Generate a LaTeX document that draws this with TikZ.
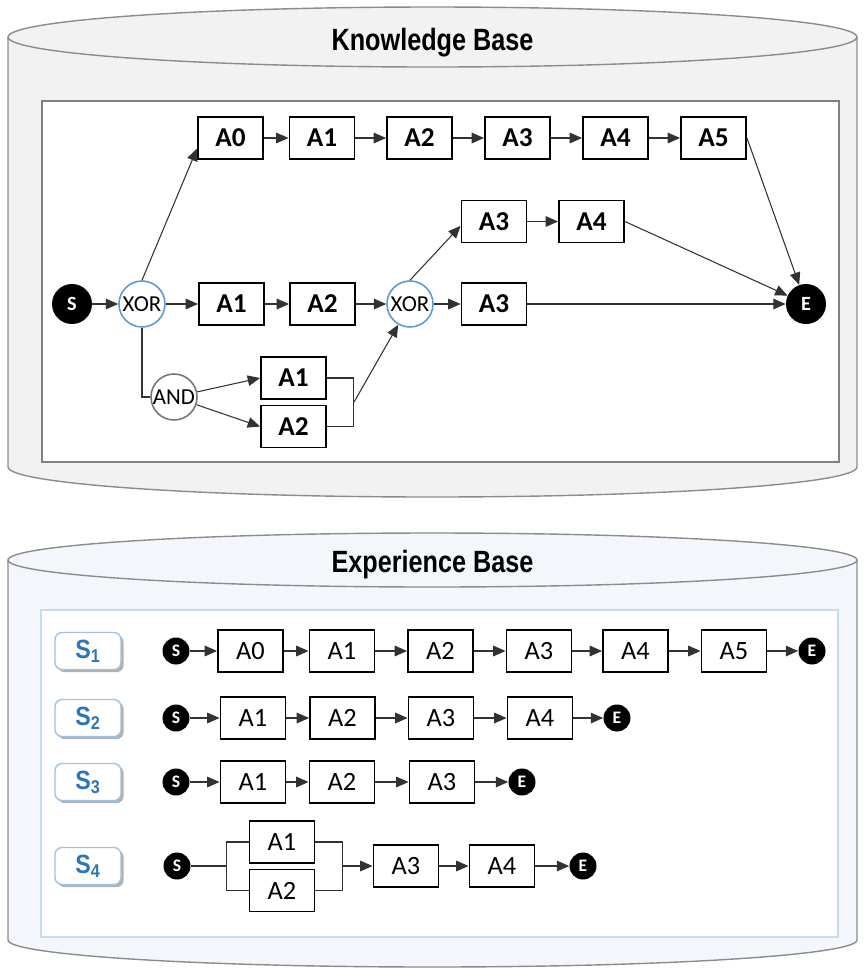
\documentclass[tikz,border=0pt]{standalone}
\usepackage{fontspec}
\setmainfont{Carlito}
\newfontfamily\titlefont[FakeStretch=0.82]{Liberation Sans}
\newfontfamily\seqfont[FakeStretch=0.88]{Liberation Sans}
\usetikzlibrary{arrows.meta, calc, shadows}
\definecolor{kbfill}{RGB}{242,242,242}
\definecolor{ebfill}{RGB}{243,247,251}
\definecolor{cylline}{RGB}{140,140,140}
\definecolor{kbframe}{RGB}{128,128,128}
\definecolor{ebframe}{RGB}{197,220,240}
\definecolor{xorblue}{RGB}{91,155,213}
\definecolor{andgray}{RGB}{118,118,118}
\definecolor{seqblue}{RGB}{46,117,182}
\definecolor{seqframe}{RGB}{157,195,230}
\definecolor{linkgray}{RGB}{50,50,50}

\tikzset{
  act/.style={draw, line width=1.1pt, fill=white, inner sep=0pt, minimum width=1.3cm, minimum height=0.84cm, font=\fontsize{15.5}{15.5}\selectfont\bfseries},
  seqact/.style={act, font=\fontsize{15}{15}\selectfont},
  gate/.style={circle, draw=xorblue, line width=0.9pt, fill=white, inner sep=0pt, minimum size=0.92cm, font=\fontsize{13}{13}\selectfont},
  andgate/.style={gate, draw=andgray},
  terminal/.style={circle, fill=black, text=white, inner sep=0pt, minimum size=0.8cm, font=\fontsize{11.5}{11.5}\selectfont\bfseries},
  smallterm/.style={terminal, minimum size=0.54cm, font=\fontsize{10}{10}\selectfont\bfseries},
  seqlbl/.style={draw=seqframe, line width=0.8pt, fill=white, rounded corners=4pt, minimum width=1.32cm, minimum height=0.74cm, inner sep=0pt, text=seqblue, font=\seqfont\fontsize{15}{15}\selectfont\bfseries, drop shadow={shadow xshift=1.5pt, shadow yshift=-1.5pt, fill=black, opacity=0.3}},
  flow/.style={-{Triangle[length=7pt,width=6pt]}, line width=0.6pt, linkgray},
  plain/.style={line width=0.6pt, linkgray},
  title/.style={font=\titlefont\fontsize{17.5}{17.5}\selectfont\bfseries},
}

\begin{document}
\begin{tikzpicture}[x=0.02cm, y=-0.02cm]
	\useasboundingbox (0,0) rectangle (865,968);

	% knowledge base cylinder
	\fill[kbfill] (8,37) -- (8,467) arc[start angle=180, end angle=0, x radius=424.5, y radius=30] -- (857,37) -- cycle;
	\draw[cylline, line width=0.8pt] (8,37) -- (8,467) arc[start angle=180, end angle=0, x radius=424.5, y radius=30] -- (857,37);
	\draw[cylline, line width=0.8pt, fill=kbfill] (432.5,37) ellipse [x radius=424.5, y radius=30];
	\node[title] (kbtitle) at (432.5,43) {Knowledge Base};
	\draw[kbframe, line width=1.2pt, fill=white] (42,101) rectangle (839,462);

	% experience base cylinder
	\fill[ebfill] (8,560) -- (8,940) arc[start angle=180, end angle=0, x radius=424.5, y radius=27] -- (857,560) -- cycle;
	\draw[cylline, line width=0.8pt] (8,560) -- (8,940) arc[start angle=180, end angle=0, x radius=424.5, y radius=27] -- (857,560);
	\draw[cylline, line width=0.8pt, fill=ebfill] (432.5,560) ellipse [x radius=424.5, y radius=27];
	\node[title] (ebtitle) at (432.5,565) {Experience Base};
	\draw[ebframe, line width=1.2pt, fill=white] (41,610) rectangle (838,937);

	% process model
	\node[terminal] (ks) at (72,304) {S};
	\node[gate] (kx1) at (142,304) {XOR};
	\node[act] (km1) at (231.5,304) {A1};
	\node[act] (km2) at (322.5,304) {A2};
	\node[gate] (kx2) at (410,304) {XOR};
	\node[act] (km3) at (494,304) {A3};
	\node[terminal] (ke) at (806,304) {E};
	\foreach \i/\x in {0/230.5,1/322,2/419.5,3/517.5,4/615.5,5/713.5}
		\node[act] (kt\i) at (\x,138) {A\i};
	\node[act] (ku3) at (494,221.5) {A3};
	\node[act] (ku4) at (591.5,221.5) {A4};
	\node[andgate] (kand) at (174,397) {AND};
	\node[act] (kl1) at (293.5,378) {A1};
	\node[act] (kl2) at (293.5,426.5) {A2};

	\draw[flow] (ks) -- (kx1);
	\draw[flow] (kx1) -- (km1);
	\draw[flow] (km1) -- (km2);
	\draw[flow] (km2) -- (kx2);
	\draw[flow] (kx2) -- (km3);
	\draw[flow] (km3) -- (ke);
	\draw[flow] (kx1.north) -- ($(kt0.north west)!0.74!(kt0.south west)$);
	\foreach \i/\j in {0/1,1/2,2/3,3/4,4/5}
		\draw[flow] (kt\i) -- (kt\j);
	\draw[flow] (kt5.east) -- (ke);
	\draw[flow] (kx2.north) -- ($(ku3.north west)!0.6!(ku3.south west)$);
	\draw[flow] (ku3) -- (ku4);
	\draw[flow] (ku4.east) -- (ke);
	\draw[plain] (kx1.south) |- (kand.west);
	\draw[flow] (kand) -- (kl1.west);
	\draw[flow] (kand) -- (kl2.west);
	\draw[plain] (kl1.east) -- ++(27,0) coordinate (kj1) |- (kl2.east);
	\draw[flow] ($(kj1)!0.5!(kj1 |- kl2.east)$) -- (kx2);

	% traces
	\foreach \n/\y in {1/651,2/718,3/782,4/866}
		\node[seqlbl] (lbl\n) at (88,\y) {S\textsubscript{\n}};

	\node[smallterm] (r1s) at (176,651) {S};
	\foreach \i/\x in {0/250.5,1/342,2/440.5,3/539,4/635.5,5/734}
		\node[seqact] (r1a\i) at (\x,651) {A\i};
	\node[smallterm] (r1e) at (812,651) {E};
	\draw[flow] (r1s) -- (r1a0);
	\foreach \i/\j in {0/1,1/2,2/3,3/4,4/5}
		\draw[flow] (r1a\i) -- (r1a\j);
	\draw[flow] (r1a5) -- (r1e);

	\node[smallterm] (r2s) at (176,718) {S};
	\foreach \i/\x in {1/253,2/342.5,3/441,4/540}
		\node[seqact] (r2a\i) at (\x,718) {A\i};
	\node[smallterm] (r2e) at (617,718) {E};
	\draw[flow] (r2s) -- (r2a1);
	\foreach \i/\j in {1/2,2/3,3/4}
		\draw[flow] (r2a\i) -- (r2a\j);
	\draw[flow] (r2a4) -- (r2e);

	\node[smallterm] (r3s) at (176,782) {S};
	\foreach \i/\x in {1/253,2/342,3/442}
		\node[seqact] (r3a\i) at (\x,782) {A\i};
	\node[smallterm] (r3e) at (522,782) {E};
	\draw[flow] (r3s) -- (r3a1);
	\foreach \i/\j in {1/2,2/3}
		\draw[flow] (r3a\i) -- (r3a\j);
	\draw[flow] (r3a3) -- (r3e);

	\node[smallterm] (r4s) at (177,866) {S};
	\node[seqact] (r4a1) at (282,842) {A1};
	\node[seqact] (r4a2) at (282,890.5) {A2};
	\node[seqact] (r4a3) at (406,866) {A3};
	\node[seqact] (r4a4) at (502,866) {A4};
	\node[smallterm] (r4e) at (583,866) {E};
	\draw[plain] (r4a1.west) -- ++(-22,0) coordinate (r4j1) |- (r4a2.west);
	\draw[plain] (r4s) -- (r4j1 |- r4s);
	\draw[plain] (r4a1.east) -- ++(27,0) coordinate (r4j2) |- (r4a2.east);
	\draw[flow] (r4j2 |- r4a3) -- (r4a3);
	\draw[flow] (r4a3) -- (r4a4);
	\draw[flow] (r4a4) -- (r4e);
\end{tikzpicture}
\end{document}
